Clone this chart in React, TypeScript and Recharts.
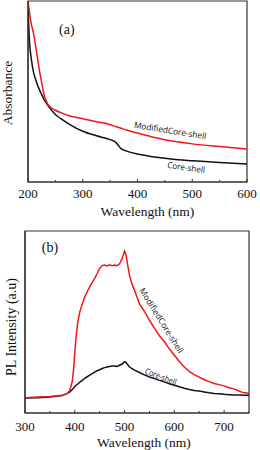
import React from 'react';
import { LineChart, Line, XAxis, YAxis, ReferenceArea, ReferenceDot, Label } from 'recharts';

// ---- Panel (a): absorbance ----
const absWavelength = [200, 203, 206, 210, 215, 220, 225, 230, 235, 240, 250, 260, 275, 300, 325, 350, 360, 370, 380, 400, 425, 450, 475, 500, 550, 600];
const absModified = [5.5, 5.1, 4.75, 4.45, 3.9, 3.3, 2.8, 2.35, 2.12, 2.0, 1.88, 1.8, 1.7, 1.6, 1.5, 1.4, 1.34, 1.28, 1.22, 1.12, 1.0, 0.9, 0.82, 0.76, 0.67, 0.59];
const absCore = [5.3, 4.1, 3.6, 3.15, 2.85, 2.6, 2.4, 2.22, 2.08, 1.95, 1.74, 1.6, 1.42, 1.18, 1.03, 0.9, 0.82, 0.6, 0.52, 0.42, 0.34, 0.28, 0.23, 0.2, 0.14, 0.09];
const absXTicks = [200, 250, 300, 350, 400, 450, 500, 550, 600];
const absYTicks = [0, 1, 2, 3, 4, 5];

// ---- Panel (b): PL ----
const plWavelength = [300, 325, 350, 375, 385, 390, 395, 398, 400, 403, 406, 410, 415, 420, 425, 430, 435, 440, 445, 450, 455, 460, 465, 470, 475, 480, 485, 490, 495, 500, 503, 506, 510, 515, 520, 530, 540, 550, 560, 570, 575, 580, 590, 600, 610, 620, 630, 640, 650, 660, 670, 680, 690, 700, 710, 720, 730, 740, 750];
const plModified = [0.01, 0.03, 0.05, 0.09, 0.15, 0.25, 0.55, 1.0, 1.5, 2.07, 2.5, 2.83, 3.1, 3.33, 3.5, 3.66, 3.8, 3.94, 4.1, 4.27, 4.36, 4.38, 4.35, 4.39, 4.36, 4.38, 4.36, 4.42, 4.59, 4.84, 4.7, 4.4, 4.04, 3.75, 3.55, 3.1, 2.85, 2.56, 2.3, 2.05, 1.95, 1.85, 1.62, 1.41, 1.2, 1.02, 0.88, 0.77, 0.69, 0.6, 0.54, 0.48, 0.44, 0.4, 0.34, 0.3, 0.23, 0.17, 0.16];
const plCore = [0, 0.01, 0.03, 0.08, 0.15, 0.2, 0.28, 0.33, 0.38, 0.42, 0.46, 0.52, 0.58, 0.65, 0.7, 0.75, 0.8, 0.85, 0.9, 0.93, 0.97, 1.0, 1.02, 1.04, 1.05, 1.05, 1.04, 1.08, 1.12, 1.19, 1.17, 1.1, 1.02, 0.97, 0.92, 0.84, 0.76, 0.69, 0.64, 0.58, 0.56, 0.53, 0.47, 0.42, 0.37, 0.32, 0.28, 0.25, 0.23, 0.2, 0.17, 0.15, 0.14, 0.12, 0.11, 0.1, 0.1, 0.09, 0.09];
const plXTicks = [300, 350, 400, 450, 500, 550, 600, 650, 700, 750];
const plYTicks = [0, 1, 2, 3, 4, 5];

const absData = (vals: number[]) => absWavelength.map((w, i) => ({ w, v: vals[i] }));
const plData = (vals: number[]) => plWavelength.map((w, i) => ({ w, v: vals[i] }));

const AXIS = '#333';
const RED = '#f2161c';
const BLACK = '#111';
const SERIF = '"Liberation Serif", "DejaVu Serif", serif';
const SANS = '"Open Sans", "Noto Sans", sans-serif';

const makeXTick = (labelDy: number) => (props: any) => {
  const { x, y, payload } = props;
  const major = payload.value % 100 === 0;
  return (
    <g>
      <line x1={x} x2={x} y1={y} y2={y - (major ? 3 : 2)} stroke={AXIS} strokeWidth={1} />
      {major && !(payload.value === 750) ? (
        <text x={x} y={y + labelDy} textAnchor="middle" dominantBaseline="central" fontFamily={SERIF} fontSize={13} fill="#111">
          {payload.value}
        </text>
      ) : null}
    </g>
  );
};

const rotText = (text: string, angle: number, len: number, color: string) => (props: any) => {
  const vb = props.viewBox || {};
  const cx = (vb.x ?? 0) + (vb.width ?? 0) / 2;
  const cy = (vb.y ?? 0) + (vb.height ?? 0) / 2;
  return (
    <text
      x={cx}
      y={cy}
      transform={`rotate(${angle} ${cx} ${cy})`}
      textAnchor="middle"
      dominantBaseline="central"
      fontFamily={SANS}
      fontSize={8.5}
      fill={color}
      textLength={len}
      lengthAdjust="spacingAndGlyphs"
    >
      {text}
    </text>
  );
};

const plainText = (text: string, size: number) => (props: any) => {
  const vb = props.viewBox || {};
  const cx = (vb.x ?? 0) + (vb.width ?? 0) / 2;
  const cy = (vb.y ?? 0) + (vb.height ?? 0) / 2;
  return (
    <text x={cx} y={cy} textAnchor="middle" dominantBaseline="central" fontFamily={SERIF} fontSize={size} fill="#111">
      {text}
    </text>
  );
};

const yTitle = (text: string, dx: number, dy: number, size: number) => (props: any) => {
  const vb = props.viewBox || {};
  const cx = (vb.x ?? 0) + dx;
  const cy = (vb.y ?? 0) + (vb.height ?? 0) / 2 + dy;
  return (
    <text x={cx} y={cy} transform={`rotate(-90 ${cx} ${cy})`} textAnchor="middle" dominantBaseline="central" fontFamily={SERIF} fontSize={size} fill="#111">
      {text}
    </text>
  );
};

const xTitle = (text: string, dx: number, dy: number) => (props: any) => {
  const vb = props.viewBox || {};
  const cx = (vb.x ?? 0) + (vb.width ?? 0) / 2 + dx;
  const cy = (vb.y ?? 0) + dy;
  return (
    <text x={cx} y={cy} textAnchor="middle" dominantBaseline="central" fontFamily={SERIF} fontSize={13.5} fill="#111">
      {text}
    </text>
  );
};

export default function App() {
  const aMin = -0.51;
  const aMax = 5.52;
  const bMin = -0.494;
  const bMax = 5.5;
  return (
    <div style={{ position: 'absolute', left: 0, top: 0, width: 260, height: 450, background: '#fff' }}>
      <div style={{ position: 'absolute', left: 0, top: 0 }}>
        <LineChart width={260} height={225} margin={{ top: 1, right: 13, left: 0, bottom: 13 }}>
          <XAxis
            dataKey="w"
            type="number"
            domain={[200, 600]}
            ticks={absXTicks}
            interval={0}
            allowDataOverflow
            axisLine={{ stroke: AXIS, strokeWidth: 1.2 }}
            tickLine={false}
            tickSize={0}
            tickMargin={0}
            tick={makeXTick(11)}
            height={30}
          >
            <Label content={xTitle('Wavelength (nm)', 10, 29)} />
          </XAxis>
          <YAxis
            type="number"
            domain={[aMin, aMax]}
            ticks={absYTicks}
            interval={0}
            allowDataOverflow
            width={28}
            axisLine={{ stroke: AXIS, strokeWidth: 1.2 }}
            tickLine={{ stroke: AXIS }}
            tickSize={4}
            tick={false}
          >
            <Label content={yTitle('Absorbance', 7, 1.5, 13.5)} />
          </YAxis>
          <ReferenceArea x1={200} x2={600} y1={aMin} y2={aMax} fill="none" stroke={AXIS} strokeWidth={1.2} ifOverflow="visible" />
          <Line data={absData(absCore)} dataKey="v" type="monotone" stroke={BLACK} strokeWidth={1.5} dot={false} isAnimationActive={false} />
          <Line data={absData(absModified)} dataKey="v" type="monotone" stroke={RED} strokeWidth={1.5} dot={false} isAnimationActive={false} />
          <ReferenceDot x={271} y={4.56} r={0} fill="none" stroke="none" ifOverflow="visible">
            <Label content={plainText('(a)', 14)} />
          </ReferenceDot>
          <ReferenceDot x={460} y={1.22} r={0} fill="none" stroke="none" ifOverflow="visible">
            <Label content={rotText('ModifiedCore-shell', 9, 73, '#111')} />
          </ReferenceDot>
          <ReferenceDot x={489} y={-0.01} r={0} fill="none" stroke="none" ifOverflow="visible">
            <Label content={rotText('Core-shell', 8, 38, '#111')} />
          </ReferenceDot>
        </LineChart>
      </div>
      <div style={{ position: 'absolute', left: 0, top: 225 }}>
        <LineChart width={260} height={225} margin={{ top: 6, right: 11, left: 0, bottom: 7 }}>
          <XAxis
            dataKey="w"
            type="number"
            domain={[300, 750]}
            ticks={plXTicks}
            interval={0}
            allowDataOverflow
            axisLine={{ stroke: AXIS, strokeWidth: 1.2 }}
            tickLine={false}
            tickSize={0}
            tickMargin={0}
            tick={makeXTick(13)}
            height={30}
          >
            <Label content={xTitle('Wavelength (nm)', 7, 29)} />
          </XAxis>
          <YAxis
            type="number"
            domain={[bMin, bMax]}
            ticks={plYTicks}
            interval={0}
            allowDataOverflow
            width={25}
            axisLine={{ stroke: AXIS, strokeWidth: 1.2 }}
            tickLine={{ stroke: AXIS }}
            tickSize={4}
            tick={false}
          >
            <Label content={yTitle('PL Intensity (a.u)', 11, 5, 14)} />
          </YAxis>
          <ReferenceArea x1={300} x2={750} y1={bMin} y2={bMax} fill="none" stroke={AXIS} strokeWidth={1.2} ifOverflow="visible" />
          <Line data={plData(plCore)} dataKey="v" type="linear" stroke={BLACK} strokeWidth={1.5} dot={false} isAnimationActive={false} />
          <Line data={plData(plModified)} dataKey="v" type="linear" stroke={RED} strokeWidth={1.5} dot={false} isAnimationActive={false} />
          <ReferenceDot x={350} y={4.97} r={0} fill="none" stroke="none" ifOverflow="visible">
            <Label content={plainText('(b)', 14)} />
          </ReferenceDot>
          <ReferenceDot x={575} y={2.56} r={0} fill="none" stroke="none" ifOverflow="visible">
            <Label content={rotText('ModifiedCore-shell', 58, 75, '#111')} />
          </ReferenceDot>
          <ReferenceDot x={573} y={0.72} r={0} fill="none" stroke="none" ifOverflow="visible">
            <Label content={rotText('Core-shell', 21, 33, '#111')} />
          </ReferenceDot>
        </LineChart>
      </div>
    </div>
  );
}
